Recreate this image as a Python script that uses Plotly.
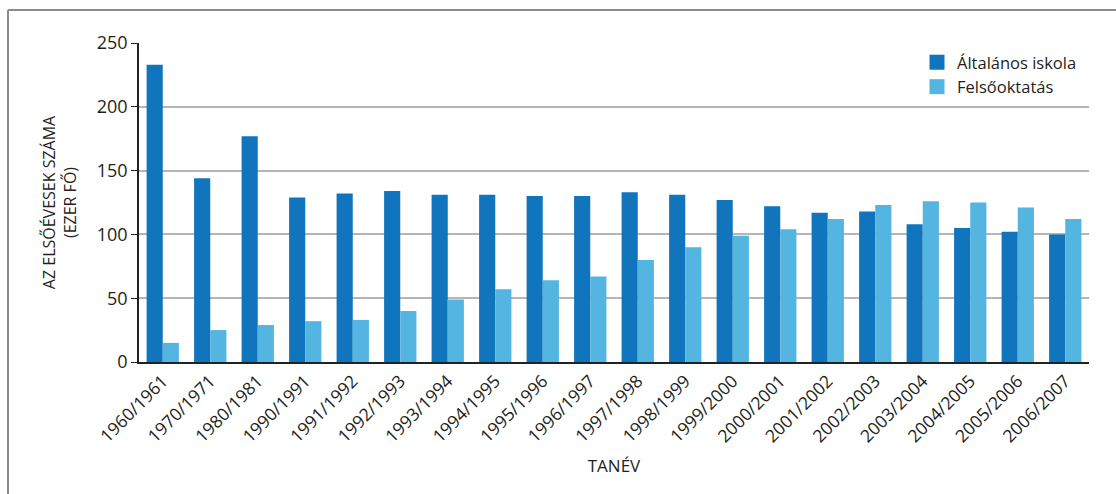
import plotly.graph_objects as go

# School years
years = ["1960/1961", "1970/1971", "1980/1981", "1990/1991", "1991/1992",
         "1992/1993", "1993/1994", "1994/1995", "1995/1996", "1996/1997",
         "1997/1998", "1998/1999", "1999/2000", "2000/2001", "2001/2002",
         "2002/2003", "2003/2004", "2004/2005", "2005/2006", "2006/2007"]

# First-year students, thousands
altalanos = [233, 144, 177, 129, 132, 134, 131, 131, 130, 130,
             133, 131, 127, 122, 117, 118, 108, 105, 102, 100]
felsooktatas = [15, 25, 29, 32, 33, 40, 49, 57, 64, 67,
                80, 90, 99, 104, 112, 123, 126, 125, 121, 112]

y_ticks = [0, 50, 100, 150, 200, 250]

FONT = "Open Sans"
TEXT = "#231f20"
DARK = "#1075bd"
LIGHT = "#54b5e0"

fig = go.Figure()
fig.add_trace(go.Bar(x=years, y=altalanos, name="Általános iskola",
                     marker=dict(color=DARK, line=dict(width=0)),
                     showlegend=False))
fig.add_trace(go.Bar(x=years, y=felsooktatas, name="Felsőoktatás",
                     marker=dict(color=LIGHT, line=dict(width=0)),
                     showlegend=False))

# Legend entries with large square swatches
for name, color in [("Általános iskola", DARK), ("Felsőoktatás", LIGHT)]:
    fig.add_trace(go.Scatter(x=[None], y=[None], mode="markers", name=name,
                             marker=dict(symbol="square", size=15, color=color,
                                         line=dict(width=0)),
                             showlegend=True))

# Outer frame (left and top edges)
L, R, T, B = 139, 27, 43, 132
W, H = 1116 - L - R, 494 - T - B
def px(x):
    return (x - L) / W
def py(y):
    return (494 - B - y) / H
fig.add_shape(type="line", xref="paper", yref="paper",
              x0=px(8), x1=px(1116), y0=py(10), y1=py(10),
              line=dict(color="#8a8a8a", width=2))
fig.add_shape(type="line", xref="paper", yref="paper",
              x0=px(8), x1=px(8), y0=py(10), y1=py(494),
              line=dict(color="#8a8a8a", width=2))

fig.update_layout(
    width=1116, height=494,
    margin=dict(l=L, r=R, t=T, b=B),
    paper_bgcolor="white", plot_bgcolor="white",
    barmode="group", bargap=0.32, bargroupgap=0,
    font=dict(family=FONT, color=TEXT),
    showlegend=True,
    legend=dict(x=px(917), y=py(45), xanchor="left", yanchor="top",
                font=dict(size=16.5, family=FONT, color=TEXT),
                bgcolor="rgba(0,0,0,0)", itemwidth=30, tracegroupgap=0),
    xaxis=dict(
        tickangle=-45, tickfont=dict(size=17.5, family=FONT, color=TEXT),
        showline=True, linecolor="#222222", linewidth=2,
        ticks="", showgrid=False,
        title=dict(text="TANÉV", font=dict(size=17, family=FONT, color=TEXT),
                   standoff=14),
    ),
    yaxis=dict(
        range=[0, 250], tickvals=y_ticks,
        tickfont=dict(size=18, family=FONT, color=TEXT),
        showline=True, linecolor="#222222", linewidth=1.5,
        ticks="outside", ticklen=6, tickcolor="#222222",
        showgrid=True, gridcolor="#b5b5b5", gridwidth=2,
        zeroline=False,
        title=dict(text="AZ ELSŐÉVESEK SZÁMA<br>(EZER FŐ)",
                   font=dict(size=16, family=FONT, color=TEXT), standoff=16),
    ),
)

fig.write_html("out.html")
